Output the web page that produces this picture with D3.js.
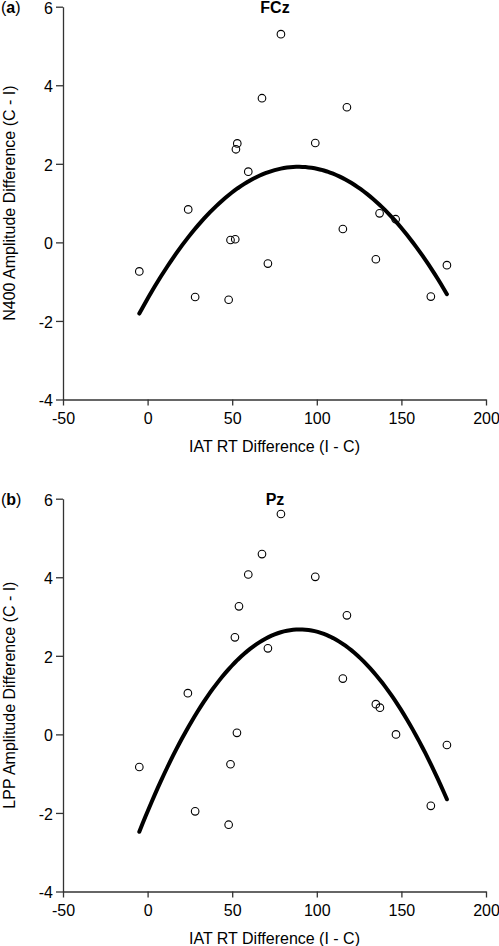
<!DOCTYPE html>
<html>
<head>
<meta charset="utf-8">
<script src="https://cdn.jsdelivr.net/npm/d3@7"></script>
<style>
  html, body { margin: 0; padding: 0; background: #fff; }
  svg text { font-family: "Liberation Sans", Arial, Helvetica, sans-serif; }
</style>
</head>
<body>
<svg id="chart" width="499" height="946"></svg>
<script>
// ---- data ----
const xTicks = [-50, 0, 50, 100, 150, 200];
const yTicks = [-4, -2, 0, 2, 4, 6];

// Panel (a) FCz: IAT RT difference vs N400 amplitude difference
const fczX = [24.0, 53.0, 52.2, 59.5, 49.0, 51.8, 78.8, 67.6, 117.8, 99.1, 137.1, 146.6, 115.4, -4.9, 28.1, 47.9, 71.1, 134.9, 176.9, 167.4];
const fczY = [0.84, 2.52, 2.37, 1.80, 0.06, 0.08, 5.30, 3.67, 3.44, 2.53, 0.74, 0.59, 0.34, -0.74, -1.39, -1.46, -0.54, -0.43, -0.58, -1.38];

// Panel (b) Pz: IAT RT difference vs LPP amplitude difference
const pzX = [23.8, 51.6, 54.0, 59.5, 78.8, 67.6, 99.1, 117.8, 71.1, 115.4, 134.9, 137.3, -4.9, 52.8, 49.0, 28.1, 47.9, 146.8, 176.9, 167.4];
const pzY = [1.05, 2.47, 3.26, 4.07, 5.61, 4.59, 4.01, 3.03, 2.19, 1.42, 0.77, 0.68, -0.83, 0.04, -0.76, -1.96, -2.30, 0.00, -0.27, -1.82];

const panels = [
  { tag: "a", title: "FCz", yLabel: "N400 Amplitude Difference (C - I)", xs: fczX, ys: fczY, top: 6.7 },
  { tag: "b", title: "Pz", yLabel: "LPP Amplitude Difference (C - I)", xs: pzX, ys: pzY, top: 498.7 }
];

// quadratic least squares fit
function quadFit(xs, ys) {
  const n = xs.length;
  let S = [0,0,0,0,0], T = [0,0,0];
  for (let i = 0; i < n; i++) {
    let p = 1;
    for (let k = 0; k < 5; k++) { S[k] += p; if (k < 3) T[k] += p * ys[i]; p *= xs[i]; }
  }
  const A = [[S[0],S[1],S[2],T[0]],[S[1],S[2],S[3],T[1]],[S[2],S[3],S[4],T[2]]];
  for (let c = 0; c < 3; c++) {
    for (let r = c + 1; r < 3; r++) {
      const f = A[r][c] / A[c][c];
      for (let k = c; k < 4; k++) A[r][k] -= f * A[c][k];
    }
  }
  const b = [0,0,0];
  for (let r = 2; r >= 0; r--) {
    let s = A[r][3];
    for (let k = r + 1; k < 3; k++) s -= A[r][k] * b[k];
    b[r] = s / A[r][r];
  }
  return x => b[0] + b[1] * x + b[2] * x * x;
}

const svg = d3.select("#chart");
const left = 63, right = 486, plotH = 392.8;
const axisColor = "#333";
const fmt = d => String(d);

panels.forEach(p => {
  const g = svg.append("g");
  const x = d3.scaleLinear().domain([-50, 200]).range([left, right]);
  const y = d3.scaleLinear().domain([-4, 6]).range([p.top + plotH, p.top]);

  // axes
  const yAxis = g.append("g").attr("transform", `translate(${left},0)`)
    .call(d3.axisLeft(y).tickValues(yTicks).tickFormat(fmt).tickSizeInner(7).tickSizeOuter(0).tickPadding(3));
  const xAxis = g.append("g").attr("transform", `translate(0,${p.top + plotH})`)
    .call(d3.axisBottom(x).tickValues(xTicks).tickFormat(fmt).tickSizeInner(6).tickSizeOuter(0).tickPadding(7));
  [yAxis, xAxis].forEach(a => {
    a.selectAll("path, line").attr("stroke", axisColor).attr("stroke-width", 1.3);
    a.selectAll("text").attr("fill", "#000").style("font-size", "16px");
  });
  yAxis.selectAll("text").attr("dy", "0.4em");

  // fitted curve
  const f = quadFit(p.xs, p.ys);
  const x0 = d3.min(p.xs), x1 = d3.max(p.xs);
  const pts = d3.range(0, 101).map(i => { const xv = x0 + (x1 - x0) * i / 100; return [xv, f(xv)]; });
  g.append("path")
    .attr("d", d3.line().x(d => x(d[0])).y(d => y(d[1]))(pts))
    .attr("fill", "none").attr("stroke", "#000").attr("stroke-width", 4)
    .attr("stroke-linecap", "round");

  // points
  g.selectAll("circle.pt").data(p.xs.map((v, i) => [v, p.ys[i]])).enter()
    .append("circle")
    .attr("cx", d => x(d[0])).attr("cy", d => y(d[1])).attr("r", 3.8)
    .attr("fill", "none").attr("stroke", "#000").attr("stroke-width", 1.1);

  // title
  g.append("text").attr("x", 275).attr("y", p.top + 6.6)
    .attr("text-anchor", "middle").style("font-size", "16px").style("font-weight", "bold")
    .text(p.title);

  // panel tag
  const tg = g.append("text").attr("x", 1).attr("y", p.top + 6).style("font-size", "16px");
  tg.append("tspan").text("(");
  tg.append("tspan").style("font-weight", "bold").text(p.tag);
  tg.append("tspan").text(")");

  // x label
  g.append("text").attr("x", (left + right) / 2).attr("y", p.top + plotH + 52)
    .attr("text-anchor", "middle").style("font-size", "16px")
    .text("IAT RT Difference (I - C)");

  // y label
  g.append("text")
    .attr("transform", `translate(15,${p.top + plotH / 2}) rotate(-90)`)
    .attr("text-anchor", "middle").style("font-size", "16px")
    .text(p.yLabel);
});
</script>
</body>
</html>
